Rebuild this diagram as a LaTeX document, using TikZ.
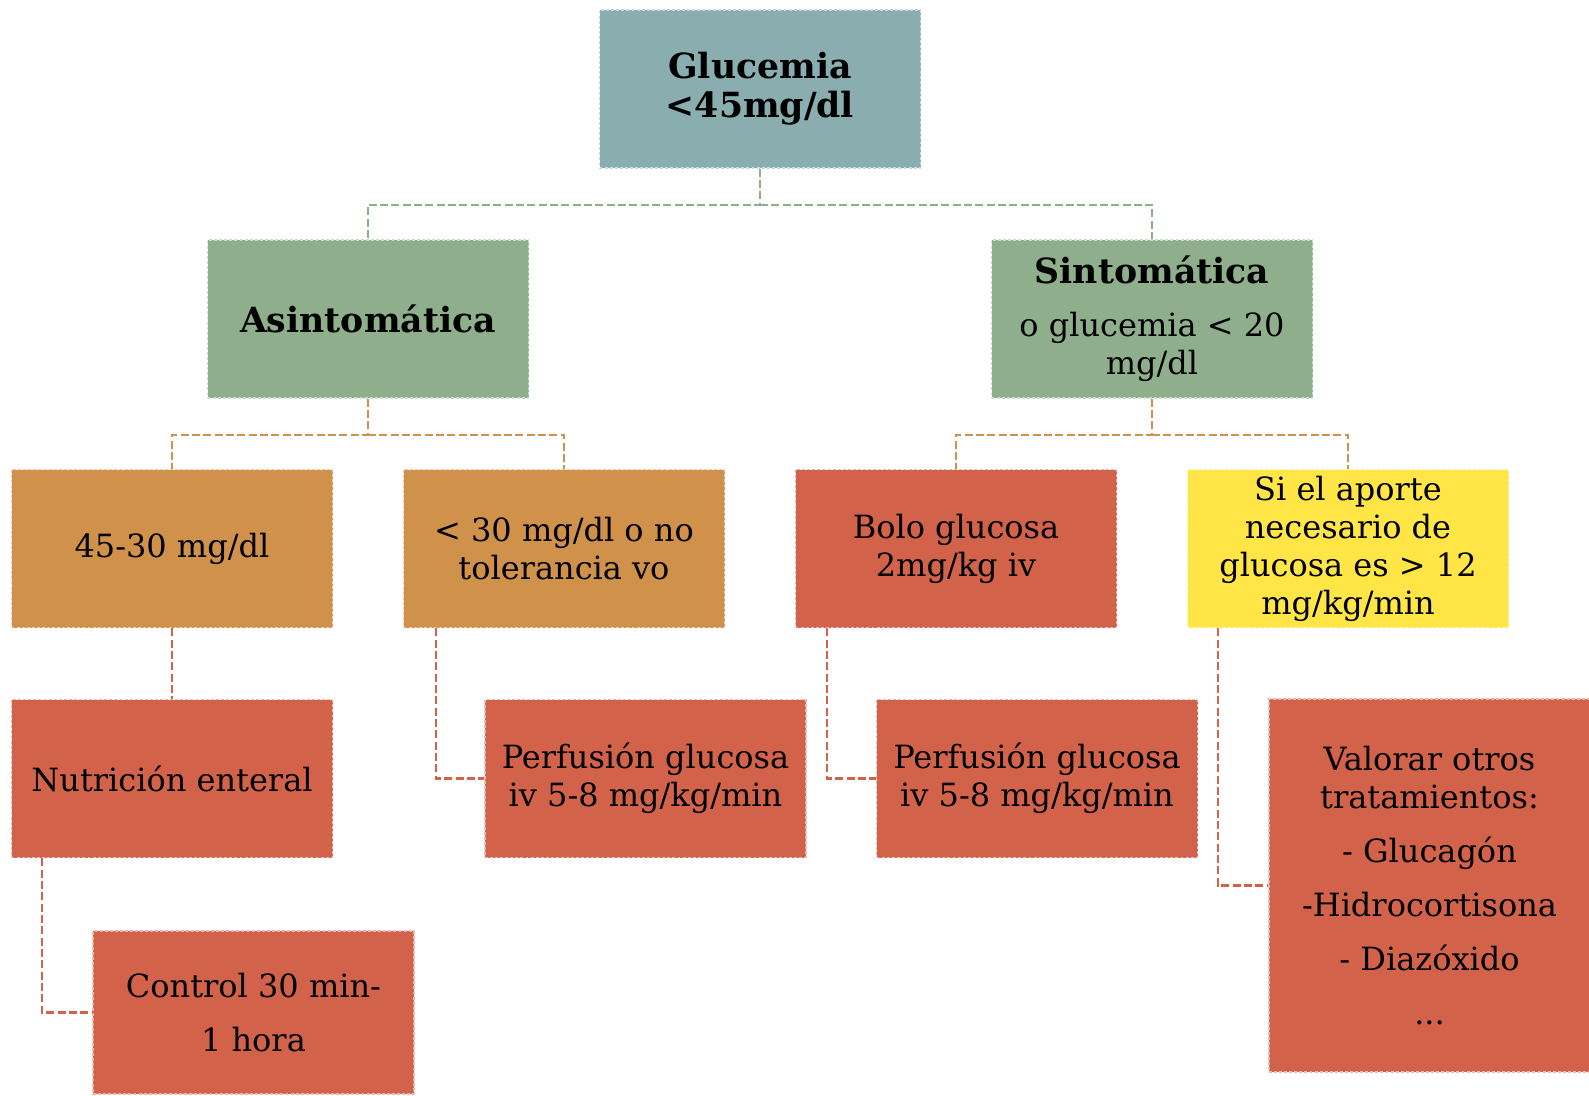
\documentclass[tikz,border=0pt]{standalone}
\usepackage{fontspec}
\setmainfont{DejaVu Serif}
\definecolor{cTeal}{HTML}{8AADAF}
\definecolor{cGreen}{HTML}{8FAF8C}
\definecolor{cOrange}{HTML}{D0914B}
\definecolor{cRed}{HTML}{D2634A}
\definecolor{cYellow}{HTML}{FFE646}
\begin{document}
\begin{tikzpicture}[x=0.75pt,y=-0.75pt,
  box/.style={rectangle,inner sep=2pt,minimum width=240.75pt,minimum height=118.5pt,
    align=center,font=\fontsize{24}{28.5}\selectfont,text=black,
    draw=#1!45!white,fill=#1,line width=1.2pt,dash pattern=on 2.2pt off 1.6pt},
  ttl/.style={font=\fontsize{26}{29}\selectfont\bfseries},
  conn/.style={draw=#1,line width=1.6pt,dash pattern=on 6pt off 2.5pt}]
\useasboundingbox (0,0) rectangle (1589,1096);
\node[box=cTeal,ttl] (g) at (760,89) {Glucemia\\<45mg/dl};
\node[box=cGreen,ttl] (a) at (368,319) {Asintomática};
\node[box=cGreen] (s) at (1152,319) {{\fontsize{26}{29}\selectfont\bfseries Sintomática}\\[11pt]o glucemia < 20\\mg/dl};
\node[box=cOrange] (b1) at (172,548.5) {45-30 mg/dl};
\node[box=cOrange] (b2) at (564,548.5) {< 30 mg/dl o no\\tolerancia vo};
\node[box=cRed] (b3) at (956,548.5) {Bolo glucosa\\2mg/kg iv};
\node[box=cYellow] (b4) at (1348,548.5) {Si el aporte\\necesario de\\glucosa es > 12\\mg/kg/min};
\node[box=cRed] (n) at (172,778.5) {Nutrición enteral};
\node[box=cRed] (p1) at (645.5,778.5) {Perfusión glucosa\\iv 5-8 mg/kg/min};
\node[box=cRed] (p2) at (1037,778.5) {Perfusión glucosa\\iv 5-8 mg/kg/min};
\node[box=cRed,minimum height=279.75pt] (v) at (1429.5,885.5) {Valorar otros\\tratamientos:\\[12pt]- Glucagón\\[12pt]-Hidrocortisona\\[12pt]- Diazóxido\\[12pt]...};
\node[box=cRed,minimum height=122.25pt] (c) at (253.5,1012.5) {Control 30 min-\\[12pt]1 hora};
\draw[conn=cGreen] (g.south) -- ++(0,36) coordinate (gbar) -| (a.north);
\draw[conn=cGreen] (gbar) -| (s.north);
\draw[conn=cOrange] (a.south) -- ++(0,36) coordinate (abar) -| (b1.north);
\draw[conn=cOrange] (abar) -| (b2.north);
\draw[conn=cOrange] (s.south) -- ++(0,36) coordinate (sbar) -| (b3.north);
\draw[conn=cOrange] (sbar) -| (b4.north);
\draw[conn=cRed] (b1.south) -- (n.north);
\draw[conn=cRed] (b2.south west) ++(33,0) |- (p1.west);
\draw[conn=cRed] (b3.south west) ++(32,0) |- (p2.west);
\draw[conn=cRed] (b4.south west) ++(31,0) |- (v.west);
\draw[conn=cRed] (n.south west) ++(31,0) |- (c.west);
\end{tikzpicture}
\end{document}
